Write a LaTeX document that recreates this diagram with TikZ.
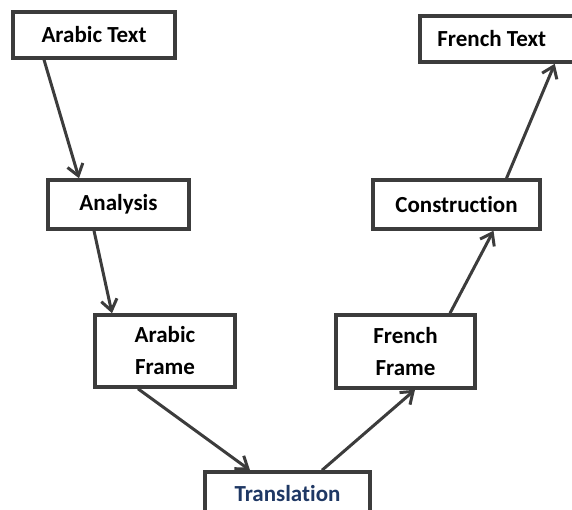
\documentclass[tikz,border=0pt]{standalone}
\usepackage{fontspec}
\setmainfont{Carlito}[Ligatures=NoCommon]
\usetikzlibrary{arrows.meta, positioning}

\definecolor{boxgray}{RGB}{60,60,60}
\definecolor{navy}{RGB}{31,56,100}

\begin{document}
\begin{tikzpicture}[
        x=1pt, y=-1pt,
        box/.style = {draw=boxgray, line width=3.5pt, fill=white, align=center, inner sep=0pt,
                      font=\fontsize{23}{32}\selectfont\bfseries},
        arrow/.style = {-{Straight Barb[length=11pt,width=16pt]}, line width=3pt, draw=boxgray}
        ]
        \clip (0,0) rectangle (572,510);

        % Knoten
        \node[box, minimum width=162pt, minimum height=46pt] (arabictext) at (94,35) {Arabic Text};
        \node[box, minimum width=141pt, minimum height=49pt] (analysis) at (118.5,204.5) {Analysis};
        \node[box, minimum width=140pt, minimum height=72pt] (arabicframe) at (165,351) {Arabic\\Frame};
        \node[box, minimum width=165pt, minimum height=44pt, text=navy] (translation) at (287.5,494) {Translation};
        \node[box, minimum width=139pt, minimum height=73pt] (frenchframe) at (405.5,351.5) {French\\Frame};
        \node[box, minimum width=167pt, minimum height=49pt] (construction) at (456.5,204.5) {Construction};
        \node[box, minimum width=162pt, minimum height=46pt, anchor=west] (frenchtext) at (418,39) {French Text\hspace*{18pt}};

        % Pfeile
        \draw[arrow] ([xshift=-50pt]arabictext.south) -- ([xshift=-39.5pt]analysis.north);
        \draw[arrow] ([xshift=-24.5pt]analysis.south) -- ([xshift=-53pt]arabicframe.north);
        \draw[arrow] ([xshift=-27pt]arabicframe.south) -- ([xshift=-37.5pt]translation.north);
        \draw[arrow] ([xshift=34.5pt]translation.north) -- ([xshift=9.5pt]frenchframe.south);
        \draw[arrow] ([xshift=44.5pt]frenchframe.north) -- ([xshift=37pt]construction.south);
        \draw[arrow] ([xshift=50pt]construction.north) -- ([xshift=54pt]frenchtext.south);
\end{tikzpicture}
\end{document}
